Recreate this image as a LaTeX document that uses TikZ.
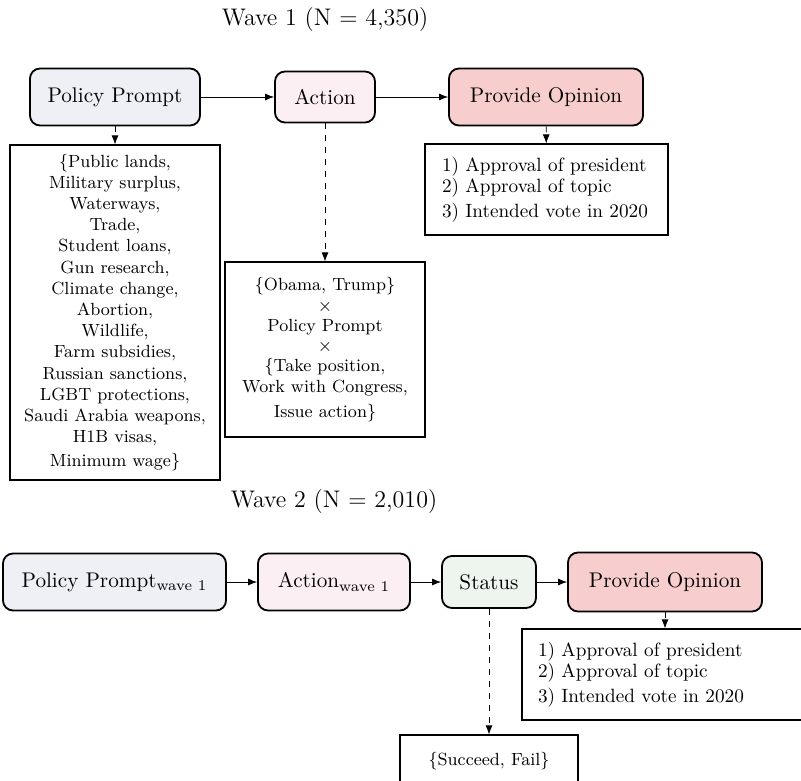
\documentclass[tikz,border=0pt]{standalone}
\usepackage{fontspec}
\usetikzlibrary{arrows.meta,positioning}
\definecolor{promptfill}{HTML}{EFEFF6}
\definecolor{actionfill}{HTML}{FCEFF3}
\definecolor{opinionfill}{HTML}{F8CDCD}
\definecolor{statusfill}{HTML}{EEF5EE}
\tikzset{
    -{Latex[length=4.5pt,width=3.5pt]},semithick,x=0.5pt,y=-0.5pt,
    stage/.style ={rectangle, rounded corners=5pt, draw, line width=0.9pt, font=\fontsize{10.6}{12}\selectfont},
    values/.style ={rectangle, draw, semithick, align=center, font=\fontsize{8.8}{10.6}\selectfont},
    outcomes/.style ={values, align=left, font=\fontsize{9.6}{10.6}\selectfont},
    wave/.style = {font=\fontsize{12}{14}\selectfont}
}
\begin{document}
\begin{tikzpicture}
    \useasboundingbox (0,0) rectangle (801,780);
    \clip (0,0) rectangle (801,780);

    % wave 1
    \node[wave] (w1) at (325, 20) {Wave 1 (N = 4,350)};
    \node[stage, fill=promptfill, minimum width=85pt, minimum height=28.5pt] (pp1) at (115, 97) {Policy Prompt};
    \node[stage, fill=actionfill, minimum width=50pt, minimum height=25.5pt] (act1) at (325, 97) {Action};
    \node[stage, fill=opinionfill, minimum width=97pt, minimum height=28.5pt] (po1) at (546, 97) {Provide Opinion};

    \node[values, minimum width=105pt, minimum height=167.5pt] (topics) at (115, 312.5)
        {\{Public lands,\\ Military surplus,\\ Waterways,\\ Trade,\\ Student loans,\\ Gun research,\\ Climate change,\\ Abortion,\\ Wildlife,\\ Farm subsidies,\\ Russian sanctions,\\ LGBT protections,\\ Saudi Arabia weapons,\\ H1B visas,\\[1.5pt] Minimum wage\}};
    \node[values, minimum width=100pt, minimum height=87.5pt] (actions) at (325, 349.5)
        {\{Obama, Trump\}\\[-0.5pt] $\times$\\[-0.5pt] Policy Prompt\\[-0.5pt] $\times$\\[-0.5pt] \{Take position,\\ Work with Congress,\\[1.5pt] Issue action\}};
    \node[outcomes, text width=104.5pt, minimum width=121.5pt, minimum height=45.5pt] (out1) at (546.5, 189.5)
        {1) Approval of president\\ 2) Approval of topic\\[2pt] 3) Intended vote in 2020};

    \path (pp1) edge (act1);
    \path (act1) edge (po1);
    \path (pp1) edge[dashed] (topics);
    \path (act1) edge[dashed] (actions);
    \path (po1) edge[dashed] (out1);

    % wave 2
    \node[wave] (w2) at (334, 502) {Wave 2 (N = 2,010)};
    \node[stage, fill=promptfill, minimum width=111.5pt, minimum height=28.5pt] (pp2) at (114.5, 582) {Policy Prompt\textsubscript{wave 1}};
    \node[stage, fill=actionfill, minimum width=76pt, minimum height=28.5pt] (act2) at (334, 582) {Action\textsubscript{wave 1}};
    \node[stage, fill=statusfill, minimum width=47pt, minimum height=26pt] (status) at (489, 582) {Status};
    \node[stage, fill=opinionfill, minimum width=97pt, minimum height=29.5pt] (po2) at (665, 582) {Provide Opinion};

    \node[outcomes, text width=127pt, minimum width=143pt, minimum height=45.5pt] (out2) at (665, 674.5)
        {1) Approval of president\\ 2) Approval of topic\\[2pt] 3) Intended vote in 2020};
    \node[values, minimum width=89pt, minimum height=30pt] (result) at (489, 765)
        {\raisebox{6pt}{\{Succeed, Fail\}}};

    \path (pp2) edge (act2);
    \path (act2) edge (status);
    \path (status) edge (po2);
    \path (po2) edge[dashed] (out2);
    \path (status) edge[dashed] (result);
\end{tikzpicture}
\end{document}
